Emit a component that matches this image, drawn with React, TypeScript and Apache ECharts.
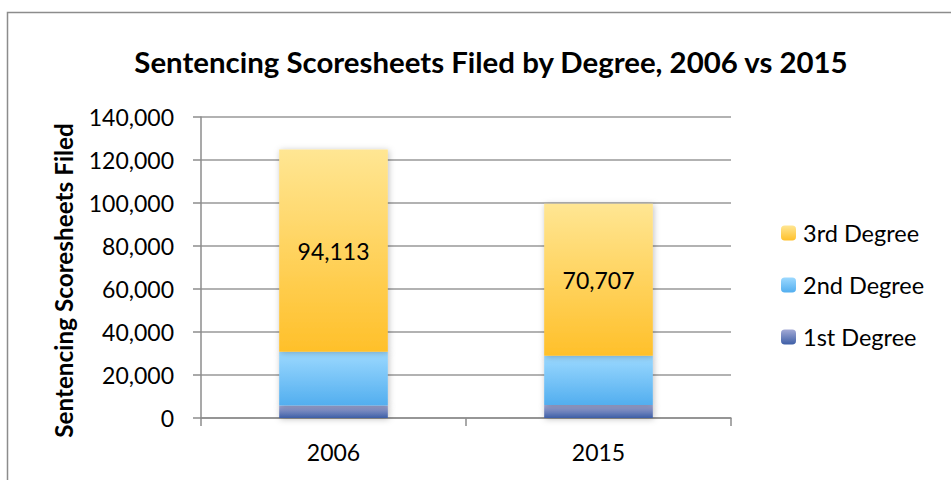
import React, { useEffect, useRef } from "react";
import * as echarts from "echarts";

const categories = ["2006", "2015"];
const firstDegree = [5800, 6000];
const secondDegree = [25000, 23000];
const thirdDegree = [94113, 70707];
const yTicks = { min: 0, max: 140000, interval: 20000 };

const FONT = "Lato, 'Open Sans', sans-serif";

function grad(top: string, bottom: string) {
  return new echarts.graphic.LinearGradient(0, 0, 0, 1, [
    { offset: 0, color: top },
    { offset: 1, color: bottom },
  ]);
}

export default function App() {
  const ref = useRef<HTMLDivElement>(null);
  useEffect(() => {
    if (!ref.current) return;
    const chart = echarts.init(ref.current, null, { renderer: "svg" });
    const shadow = {
      shadowBlur: 6,
      shadowColor: "rgba(0,0,0,0.25)",
      shadowOffsetX: 1,
      shadowOffsetY: 1,
    };
    chart.setOption({
      animation: false,
      backgroundColor: "#fff",
      textStyle: { fontFamily: FONT },
      title: {
        text: "Sentencing Scoresheets Filed by Degree, 2006 vs 2015",
        left: 486,
        textAlign: "center",
        top: 42,
        textStyle: { fontFamily: FONT, fontWeight: "bold", fontSize: 29.4, color: "#000" },
      },
      graphic: [
        {
          type: "rect",
          shape: { x: 7.5, y: 12.5, width: 980, height: 520 },
          style: { fill: "none", stroke: "#8c8c8c", lineWidth: 1.5 },
          silent: true,
        },
      ],
      legend: {
        orient: "vertical",
        left: 776,
        top: 216,
        itemWidth: 15,
        itemHeight: 15,
        itemGap: 28,
        data: ["3rd Degree", "2nd Degree", "1st Degree"],
        textStyle: { fontFamily: FONT, fontSize: 23.5, color: "#000", padding: [0, 0, 0, 2] },
      },
      grid: { left: 201, right: 220, top: 117, bottom: 62, containLabel: false },
      xAxis: {
        type: "category",
        data: categories,
        axisLine: { lineStyle: { color: "#8c8c8c", width: 1.5 } },
        axisTick: { show: true, alignWithLabel: false, length: 8, lineStyle: { color: "#8c8c8c", width: 1.5 } },
        axisLabel: { fontFamily: FONT, fontSize: 23, color: "#000", margin: 22 },
      },
      yAxis: {
        type: "value",
        min: yTicks.min,
        max: yTicks.max,
        interval: yTicks.interval,
        name: "Sentencing Scoresheets Filed",
        nameLocation: "middle",
        nameGap: 126,
        nameRotate: 90,
        nameTextStyle: {
          fontFamily: FONT,
          fontWeight: "bold",
          fontSize: 24.3,
          color: "#000",
          padding: [0, 26, 0, 0],
        },
        axisLine: { show: true, lineStyle: { color: "#8c8c8c", width: 1.5 } },
        axisTick: { show: true, length: 8, lineStyle: { color: "#8c8c8c", width: 1.5 } },
        axisLabel: {
          fontFamily: FONT,
          fontSize: 23,
          color: "#000",
          margin: 27,
          formatter: (v: number) => v.toLocaleString("en-US"),
        },
        splitLine: { show: true, lineStyle: { color: "#999", width: 1.5 } },
      },
      series: [
        {
          name: "1st Degree",
          type: "bar",
          stack: "total",
          data: firstDegree,
          barWidth: "41%",
          itemStyle: { color: grad("#A3AAD6", "#3D5EA6"), ...shadow },
        },
        {
          name: "2nd Degree",
          type: "bar",
          stack: "total",
          data: secondDegree,
          itemStyle: { color: grad("#9CD9FF", "#52AEEF"), ...shadow },
        },
        {
          name: "3rd Degree",
          type: "bar",
          stack: "total",
          data: thirdDegree,
          itemStyle: { color: grad("#FFE693", "#FFC02A"), ...shadow },
          label: {
            show: true,
            position: "inside",
            fontFamily: FONT,
            fontSize: 23,
            color: "#000",
            formatter: (p: any) => Number(p.value).toLocaleString("en-US"),
          },
        },
      ],
    });
    return () => chart.dispose();
  }, []);
  return (
    <div
      ref={ref}
      style={{ position: "fixed", left: 0, top: 0, width: 951, height: 480 }}
    />
  );
}
